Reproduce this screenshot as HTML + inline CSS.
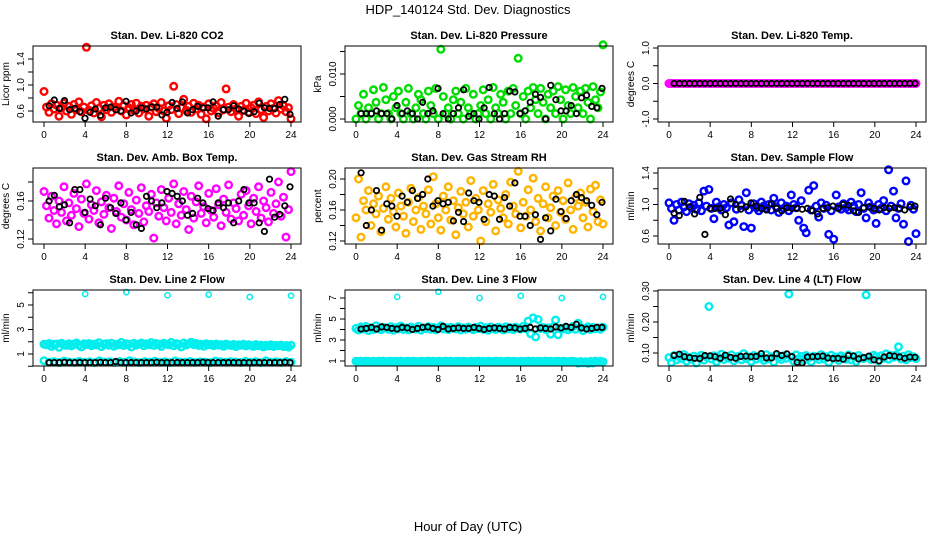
<!DOCTYPE html>
<html><head><meta charset="utf-8"><title>HDP_140124 Std. Dev. Diagnostics</title>
<style>
html,body{margin:0;padding:0;background:#fff;}
svg{display:block;font-family:"Liberation Sans",Arial,sans-serif;}
</style></head>
<body>
<svg id="fig" width="936" height="540" viewBox="0 0 936 540" xmlns="http://www.w3.org/2000/svg">
<rect width="936" height="540" fill="#fff"/>
<text x="468" y="14" text-anchor="middle" font-size="13">HDP_140124  Std. Dev. Diagnostics</text>
<text x="468" y="531" text-anchor="middle" font-size="13">Hour of Day (UTC)</text>
</svg>
<script>
// ---------- data ----------
const co2Red = [0.90,0.66,0.58,0.71,0.63,0.69,0.52,0.65,0.72,0.60,0.67,0.55,0.70,0.62,0.74,0.59,0.66,1.58,0.61,0.68,0.57,0.73,0.64,0.51,0.69,0.62,0.71,0.58,0.66,0.63,0.75,0.60,0.68,0.54,0.65,0.70,0.61,0.72,0.57,0.67,0.63,0.69,0.52,0.66,0.71,0.59,0.64,0.73,0.60,0.49,0.68,0.62,0.98,0.70,0.56,0.65,0.78,0.61,0.67,0.58,0.72,0.63,0.69,0.55,0.66,0.48,0.71,0.60,0.64,0.68,0.57,0.73,0.62,0.94,0.66,0.59,0.70,0.63,0.52,0.67,0.61,0.72,0.58,0.65,0.69,0.56,0.74,0.62,0.50,0.67,0.60,0.71,0.64,0.57,0.76,0.63,0.68,0.59,0.65,0.48];
const co2Black = [0.68,0.77,0.64,0.76,0.62,0.64,0.59,0.49,0.58,0.63,0.53,0.65,0.66,0.62,0.60,0.75,0.57,0.60,0.65,0.63,0.66,0.66,0.54,0.58,0.73,0.64,0.74,0.57,0.62,0.67,0.65,0.65,0.74,0.52,0.62,0.62,0.68,0.63,0.60,0.56,0.59,0.72,0.65,0.64,0.64,0.70,0.78,0.55];
const presGreen = [0.0000,0.0030,0.0012,0.0055,0.0000,0.0025,0.0012,0.0065,0.0037,0.0000,0.0012,0.0070,0.0043,0.0012,0.0000,0.0050,0.0025,0.0062,0.0012,0.0000,0.0037,0.0068,0.0012,0.0000,0.0025,0.0055,0.0043,0.0012,0.0000,0.0062,0.0030,0.0012,0.0068,0.0000,0.0155,0.0050,0.0012,0.0025,0.0000,0.0043,0.0062,0.0012,0.0037,0.0000,0.0068,0.0025,0.0012,0.0055,0.0000,0.0012,0.0030,0.0065,0.0012,0.0043,0.0000,0.0070,0.0025,0.0012,0.0055,0.0037,0.0000,0.0062,0.0012,0.0068,0.0030,0.0135,0.0012,0.0050,0.0000,0.0062,0.0025,0.0070,0.0043,0.0012,0.0068,0.0037,0.0000,0.0055,0.0025,0.0062,0.0012,0.0072,0.0043,0.0000,0.0065,0.0030,0.0012,0.0070,0.0050,0.0025,0.0062,0.0012,0.0068,0.0037,0.0000,0.0072,0.0043,0.0025,0.0060,0.0165];
const presBlack = [0.0012,0.0012,0.0012,0.0018,0.0012,0.0012,0.0000,0.0030,0.0012,0.0018,0.0012,0.0000,0.0037,0.0012,0.0018,0.0068,0.0012,0.0000,0.0012,0.0025,0.0065,0.0006,0.0012,0.0000,0.0025,0.0070,0.0012,0.0000,0.0012,0.0062,0.0060,0.0012,0.0018,0.0037,0.0055,0.0048,0.0000,0.0075,0.0043,0.0018,0.0018,0.0030,0.0012,0.0047,0.0053,0.0028,0.0025,0.0068];
const tempMagenta = [0,0,0,0,0,0,0,0,0,0,0,0,0,0,0,0,0,0,0,0,0,0,0,0,0,0,0,0,0,0,0,0,0,0,0,0,0,0,0,0,0,0,0,0,0,0,0,0,0,0,0,0,0,0,0,0,0,0,0,0,0,0,0,0,0,0,0,0,0,0,0,0,0,0,0,0,0,0,0,0,0,0,0,0,0,0,0,0,0,0,0,0,0,0,0,0,0,0,0,0];
const tempBlack = [0,0,0,0,0,0,0,0,0,0,0,0,0,0,0,0,0,0,0,0,0,0,0,0,0,0,0,0,0,0,0,0,0,0,0,0,0,0,0,0,0,0,0,0,0,0,0,0];
const boxMagenta = [0.170,0.155,0.142,0.165,0.150,0.136,0.160,0.148,0.175,0.139,0.158,0.145,0.168,0.152,0.133,0.162,0.147,0.178,0.141,0.156,0.150,0.171,0.137,0.159,0.146,0.166,0.153,0.131,0.163,0.149,0.176,0.143,0.157,0.140,0.169,0.151,0.135,0.161,0.147,0.174,0.138,0.155,0.149,0.167,0.121,0.158,0.144,0.172,0.153,0.139,0.163,0.148,0.178,0.136,0.157,0.145,0.170,0.151,0.130,0.165,0.142,0.159,0.176,0.147,0.154,0.137,0.168,0.150,0.143,0.173,0.156,0.134,0.162,0.148,0.177,0.141,0.158,0.152,0.139,0.167,0.145,0.171,0.155,0.136,0.163,0.149,0.175,0.142,0.160,0.153,0.138,0.169,0.147,0.157,0.180,0.144,0.164,0.122,0.151,0.191];
const boxBlack = [0.160,0.166,0.154,0.156,0.137,0.172,0.172,0.148,0.162,0.155,0.135,0.163,0.153,0.147,0.158,0.140,0.148,0.135,0.131,0.165,0.160,0.153,0.158,0.170,0.168,0.165,0.160,0.145,0.147,0.163,0.158,0.152,0.150,0.158,0.153,0.158,0.137,0.160,0.172,0.158,0.158,0.137,0.128,0.183,0.143,0.146,0.155,0.175];
const rhOrange = [0.150,0.200,0.125,0.172,0.160,0.185,0.140,0.168,0.155,0.178,0.132,0.162,0.190,0.148,0.175,0.158,0.138,0.182,0.165,0.152,0.130,0.170,0.188,0.145,0.160,0.176,0.135,0.165,0.155,0.186,0.142,0.203,0.168,0.150,0.134,0.178,0.160,0.190,0.147,0.172,0.128,0.163,0.184,0.155,0.170,0.138,0.198,0.152,0.175,0.160,0.120,0.185,0.145,0.168,0.157,0.193,0.133,0.173,0.162,0.150,0.180,0.142,0.196,0.165,0.155,0.210,0.137,0.170,0.152,0.186,0.160,0.201,0.145,0.175,0.133,0.168,0.190,0.150,0.163,0.178,0.140,0.185,0.157,0.172,0.148,0.195,0.160,0.135,0.176,0.165,0.182,0.150,0.170,0.138,0.187,0.158,0.192,0.145,0.173,0.142];
const rhBlack = [0.208,0.140,0.160,0.185,0.134,0.168,0.165,0.152,0.178,0.170,0.185,0.175,0.180,0.200,0.165,0.172,0.168,0.170,0.146,0.157,0.145,0.182,0.172,0.170,0.148,0.180,0.178,0.148,0.176,0.165,0.195,0.152,0.152,0.140,0.154,0.122,0.150,0.133,0.174,0.158,0.149,0.172,0.180,0.176,0.172,0.166,0.154,0.170];
const flowBlue = [1.02,0.95,0.80,1.00,0.93,1.03,0.97,0.91,1.01,0.96,0.99,0.94,1.02,0.92,1.17,0.98,1.19,0.95,0.82,1.03,0.97,0.93,1.00,0.96,0.74,1.02,0.78,0.94,1.06,0.99,0.72,1.15,0.93,0.70,1.01,0.96,0.92,1.03,0.98,0.95,1.00,0.93,1.08,0.97,0.90,1.02,0.95,0.98,0.92,1.12,1.00,0.96,0.80,1.05,0.70,0.64,1.18,0.93,1.24,0.98,0.84,1.02,0.95,0.99,0.62,0.92,0.56,1.12,0.97,0.94,1.01,0.96,0.93,1.03,0.98,0.91,1.00,1.15,0.95,0.83,1.02,0.97,0.93,0.76,1.00,0.95,1.05,0.92,1.44,0.98,1.17,0.83,0.95,1.01,0.75,1.30,0.53,0.99,0.94,0.63];
const flowBlack = [0.89,0.86,1.04,0.97,0.88,1.09,0.62,0.95,0.95,0.95,0.87,1.07,1.00,0.94,0.97,1.02,0.98,0.95,0.93,1.01,0.95,0.92,0.96,0.95,0.95,0.94,0.95,0.92,0.88,0.95,0.96,0.98,0.95,1.00,0.99,0.92,0.90,0.96,0.97,0.95,0.93,0.96,0.95,0.96,0.95,0.93,0.97,0.98];
const line2High = [1.80,1.75,1.85,1.62,1.78,1.82,1.55,1.88,1.76,1.70,1.84,1.66,1.79,1.90,1.72,1.58,1.83,1.77,1.86,1.68,1.81,1.74,1.92,1.60,1.79,1.85,1.71,1.88,1.64,1.80,1.76,1.95,1.69,1.83,1.78,1.57,1.87,1.73,1.81,1.90,1.67,1.84,1.76,1.93,1.70,1.86,1.79,1.62,1.88,1.82,1.75,1.95,1.68,1.85,1.78,1.58,1.90,1.73,1.83,1.96,1.77,1.86,1.70,1.80,1.64,1.84,1.75,1.79,1.68,1.82,1.72,1.77,1.63,1.81,1.74,1.69,1.78,1.60,1.76,1.71,1.80,1.66,1.75,1.70,1.62,1.77,1.68,1.73,1.58,1.72,1.66,1.75,1.61,1.70,1.67,1.73,1.60,1.69,1.56,1.72];
const line2Low = [0.45,0.32,0.38,0.30,0.42,0.35,0.31,0.40,0.33,0.37,0.30,0.44,0.34,0.36,0.31,0.39,0.33,0.45,0.35,0.30,0.38,0.34,0.41,0.32,0.36,0.30,0.43,0.35,0.33,0.39,0.31,0.37,0.34,0.30,0.42,0.36,0.32,0.38,0.35,0.31,0.40,0.33,0.37,0.30,0.44,0.34,0.36,0.31,0.39,0.33];
const line2OutHours = [4,8,12,16,20,24];
const line2Out = [5.90,6.05,5.80,5.85,5.65,5.75];
const line2Black = [0.30,0.30,0.30,0.32,0.30,0.30,0.31,0.30,0.30,0.30,0.32,0.30,0.30,0.38,0.30,0.30,0.31,0.30,0.30,0.30,0.30,0.32,0.30,0.30,0.30,0.31,0.30,0.30,0.30,0.30,0.33,0.30,0.30,0.30,0.30,0.31,0.30,0.30,0.30,0.30,0.30,0.31,0.30,0.30,0.30,0.30,0.32,0.30];
const line3High = [4.10,3.95,4.25,4.05,4.30,3.90,4.15,4.00,4.35,4.08,3.98,4.22,4.12,4.02,4.28,3.92,4.18,4.06,4.32,4.00,4.14,3.96,4.24,4.10,4.04,4.30,3.94,4.16,4.08,4.26,4.02,4.20,3.97,4.12,4.34,4.05,4.18,3.99,4.22,4.10,4.06,4.28,3.95,4.15,4.03,4.24,4.11,3.98,4.20,4.08,4.32,4.01,4.17,3.93,4.25,4.09,4.00,4.21,4.12,3.96,4.27,4.06,4.16,3.99,4.23,4.10,4.04,4.30,4.08,4.80,3.60,5.10,3.30,4.95,4.10,4.20,4.00,4.15,3.55,4.25,4.90,3.50,4.10,4.05,4.22,3.97,4.14,4.30,4.02,4.60,4.18,3.90,4.12,4.26,4.00,4.20,4.08,4.15,4.03,4.22];
const line3Low = [0.98,0.95,0.97,0.93,0.99,0.96,0.94,0.98,0.92,0.97,0.95,0.99,0.93,0.96,0.98,0.94,0.97,0.95,0.99,0.93,0.96,0.98,0.94,0.97,0.95,0.92,0.98,0.96,0.94,0.99,0.95,0.97,0.93,0.98,0.96,0.94,0.99,0.95,0.97,0.93,0.96,0.98,0.94,0.97,0.95,0.92,0.98,0.96,0.94,0.99,0.95,0.97,0.93,0.98,0.96,0.94,0.99,0.95,0.97,0.93,0.96,0.98,0.94,0.97,0.95,0.92,0.98,0.96,0.94,0.99,0.95,0.97,0.93,0.98,0.96,0.94,0.99,0.95,0.97,0.93,0.96,0.98,0.94,0.97,0.95,0.92,0.98,0.96,0.94,0.80,0.95,0.85,0.93,0.78,0.96,0.82,0.99,0.90,0.97,0.93];
const line3OutHours = [4,8,12,16,20,24];
const line3Out = [7.10,7.60,7.00,7.20,7.00,7.10];
const line3Black = [4.05,4.10,4.20,4.05,4.25,4.20,4.10,4.05,4.20,4.15,4.00,4.10,4.20,4.25,4.10,4.00,4.30,4.05,4.10,4.15,4.10,4.10,4.20,4.10,4.00,4.10,4.15,4.10,4.05,4.20,4.15,4.05,4.10,4.20,4.05,4.15,4.10,4.05,4.25,4.15,4.30,4.20,4.50,4.15,4.05,4.10,4.20,4.20];
const line4Cyan = [0.085,0.070,0.092,0.078,0.088,0.082,0.095,0.074,0.086,0.080,0.090,0.068,0.084,0.093,0.077,0.087,0.250,0.081,0.091,0.072,0.085,0.096,0.079,0.088,0.083,0.094,0.075,0.086,0.090,0.078,0.098,0.082,0.087,0.073,0.092,0.080,0.089,0.084,0.076,0.095,0.081,0.088,0.071,0.093,0.085,0.079,0.091,0.083,0.290,0.087,0.074,0.094,0.082,0.089,0.077,0.092,0.084,0.072,0.090,0.086,0.079,0.095,0.081,0.088,0.070,0.093,0.083,0.087,0.076,0.091,0.085,0.080,0.094,0.078,0.089,0.073,0.092,0.084,0.082,0.287,0.086,0.079,0.093,0.088,0.075,0.091,0.083,0.097,0.080,0.092,0.086,0.094,0.120,0.081,0.090,0.078,0.095,0.085,0.088,0.082];
const line4Black = [0.092,0.096,0.088,0.085,0.083,0.082,0.092,0.091,0.088,0.083,0.093,0.086,0.083,0.089,0.090,0.088,0.089,0.098,0.084,0.084,0.098,0.092,0.097,0.088,0.070,0.068,0.087,0.088,0.089,0.090,0.084,0.082,0.083,0.080,0.092,0.090,0.081,0.085,0.090,0.078,0.075,0.087,0.092,0.090,0.087,0.083,0.087,0.086];
const xTicks = [0,4,8,12,16,20,24];
</script>
<script>
const svg = document.getElementById('fig');
const NS = 'http://www.w3.org/2000/svg';
function mk(tag, attrs, parent){const e=document.createElementNS(NS,tag);for(const k in attrs)e.setAttribute(k,attrs[k]);(parent||svg).appendChild(e);return e;}

const colLeft=[33,345,658], rowTop=[46,168,290], boxW=268, boxH=76;
const panels=[
 {name:'li820-co2',title:'Stan. Dev. Li-820 CO2',ylab:'Licor ppm',r:0,c:0,v1:0.6,p1:65,v2:1.4,p2:13,ticks:[0.6,0.8,1.0,1.2,1.4],labels:[0.6,1.0,1.4],dig:1,
  series:[{d:co2Red,col:'#ff0000',kind:'main'},{d:co2Black,col:'#000',kind:'black'}]},
 {name:'li820-pressure',title:'Stan. Dev. Li-820 Pressure',ylab:'kPa',r:0,c:1,v1:0,p1:73,v2:0.010,p2:28,ticks:[0,0.005,0.010,0.015],labels:[0,0.010],dig:3,
  series:[{d:presGreen,col:'#00dd00',kind:'main'},{d:presBlack,col:'#000',kind:'black'}]},
 {name:'li820-temp',title:'Stan. Dev. Li-820 Temp.',ylab:'degrees C',r:0,c:2,v1:-1,p1:73,v2:1,p2:2,ticks:[-1,-0.5,0,0.5,1],labels:[-1,0,1],dig:1,
  series:[{d:tempMagenta,col:'#ff00ff',kind:'main'},{d:tempBlack,col:'#000',kind:'black'}]},
 {name:'amb-box-temp',title:'Stan. Dev. Amb. Box Temp.',ylab:'degrees C',r:1,c:0,v1:0.12,p1:71,v2:0.16,p2:33,ticks:[0.12,0.14,0.16,0.18],labels:[0.12,0.16],dig:2,
  series:[{d:boxMagenta,col:'#ff00ff',kind:'main'},{d:boxBlack,col:'#000',kind:'black'}]},
 {name:'gas-stream-rh',title:'Stan. Dev. Gas Stream RH',ylab:'percent',r:1,c:1,v1:0.12,p1:73,v2:0.20,p2:11,ticks:[0.12,0.14,0.16,0.18,0.20],labels:[0.12,0.16,0.20],dig:2,
  series:[{d:rhOrange,col:'#ffb400',kind:'main'},{d:rhBlack,col:'#000',kind:'black'}]},
 {name:'sample-flow',title:'Stan. Dev. Sample Flow',ylab:'ml/min',r:1,c:2,v1:0.6,p1:68,v2:1.4,p2:5,ticks:[0.6,0.8,1.0,1.2,1.4],labels:[0.6,1.0,1.4],dig:1,
  series:[{d:flowBlue,col:'#0000ff',kind:'main'},{d:flowBlack,col:'#000',kind:'black'}]},
 {name:'line2-flow',title:'Stan. Dev. Line 2 Flow',ylab:'ml/min',r:2,c:0,v1:1,p1:64,v2:5,p2:15,ticks:[0,1,2,3,4,5,6],labels:[1,3,5],dig:0,
  series:[{d:line2High,col:'#00eeee',kind:'main'},{d:line2Low,col:'#00eeee',kind:'main'},{d:line2Out,h:line2OutHours,col:'#00eeee',kind:'out'},{d:line2Black,col:'#000',kind:'black'}]},
 {name:'line3-flow',title:'Stan. Dev. Line 3 Flow',ylab:'ml/min',r:2,c:1,v1:1,p1:71,v2:7,p2:8,ticks:[1,2,3,4,5,6,7],labels:[1,3,5,7],dig:0,
  series:[{d:line3High,col:'#00eeee',kind:'main'},{d:line3Low,col:'#00eeee',kind:'main'},{d:line3Out,h:line3OutHours,col:'#00eeee',kind:'out'},{d:line3Black,col:'#000',kind:'black'}]},
 {name:'line4-lt-flow',title:'Stan. Dev. Line 4 (LT) Flow',ylab:'ml/min',r:2,c:2,v1:0.10,p1:63,v2:0.30,p2:1,ticks:[0.10,0.15,0.20,0.25,0.30],labels:[0.10,0.20,0.30],dig:2,
  series:[{d:line4Cyan,col:'#00eeee',kind:'main'},{d:line4Black,col:'#000',kind:'black'}]}
];

panels.forEach(p=>{
  const L=colLeft[p.c], T=rowTop[p.r];
  const g=mk('g',{});
  
  
  const xs=h=>L+11+h*(247/24);
  const ys=v=>T+p.p1+(v-p.v1)*(p.p2-p.p1)/(p.v2-p.v1);
  const t=mk('text',{x:L+boxW/2,y:T-7,'text-anchor':'middle','font-size':11,'font-weight':'bold'},g);
  t.textContent=p.title;
  
  
  p.series.forEach((s,si)=>{
    const sg=mk('g',{},g);
    
    
    const n=s.d.length;
    const rr = s.kind==='black'?2.7:(s.kind==='out'?2.6:3.3);
    const sw = s.kind==='black'?1.8:(s.kind==='out'?1.5:2.4);
    s.d.forEach((v,i)=>{
      let h;
      if(s.h) h=s.h[i];
      else if(s.kind==='black') h=0.5+i*23.4/(n-1);
      else h=i*24/(n-1);
      const c=mk('circle',{cx:xs(h).toFixed(1),cy:ys(v).toFixed(1),r:rr,fill:'none',stroke:s.col,'stroke-width':sw},sg);
      
      
    });
  });
  const b=mk('rect',{x:L,y:T,width:boxW,height:boxH,fill:'none',stroke:'#000','stroke-width':1},g);
  
  
  const xa=mk('g',{},g);
  
  
  xTicks.forEach(h=>{
    mk('line',{x1:xs(h),x2:xs(h),y1:T+boxH,y2:T+boxH+5,stroke:'#000'},xa);
    const tl=mk('text',{x:xs(h),y:T+boxH+16,'text-anchor':'middle','font-size':10},xa);
    tl.textContent=h;
  });
  const ya=mk('g',{},g);
  
  
  p.ticks.forEach(v=>{
    mk('line',{x1:L-5,x2:L,y1:ys(v),y2:ys(v),stroke:'#000'},ya);
  });
  p.labels.forEach(v=>{
    const y=ys(v);
    const tl=mk('text',{x:L-9,y:y,'text-anchor':'middle','font-size':10,transform:`rotate(-90 ${L-9} ${y})`},ya);
    tl.textContent=v.toFixed(p.dig);
  });
  const yl=mk('text',{x:L-24,y:T+boxH/2,'text-anchor':'middle','font-size':10,transform:`rotate(-90 ${L-24} ${T+boxH/2})`},g);
  yl.textContent=p.ylab;
  
  
});
</script>
</body></html>
